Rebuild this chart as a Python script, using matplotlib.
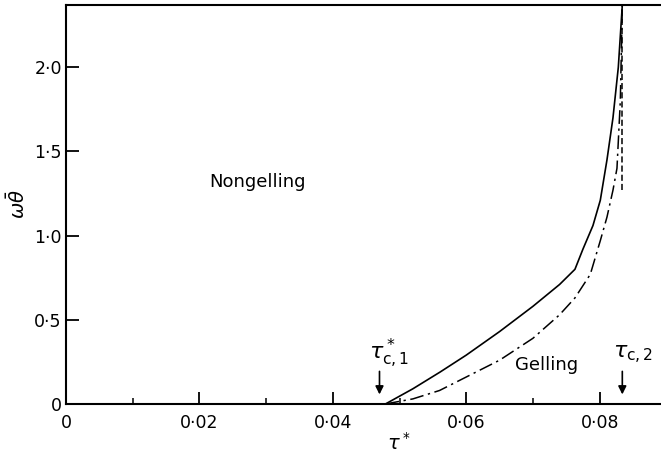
import numpy as np
import matplotlib
matplotlib.use('Agg')
import matplotlib.pyplot as plt
from matplotlib.ticker import FixedLocator, FuncFormatter

plt.rcParams['font.family'] = ['DejaVu Sans']
plt.rcParams['mathtext.fontset'] = 'dejavusans'

# Граница гелеобразования (сплошная линия)
tau_solid = [0.0479, 0.0520, 0.0561, 0.0600, 0.0650, 0.0700, 0.0740, 0.0763,
             0.0775, 0.0790, 0.0801, 0.0811, 0.0820, 0.0828, 0.0834]
w_solid = [0.0, 0.09, 0.19, 0.29, 0.43, 0.58, 0.71, 0.80,
           0.92, 1.06, 1.21, 1.45, 1.70, 2.00, 2.37]

# Вторая граница (штрихпунктир)
tau_dash = [0.0479, 0.0520, 0.0560, 0.0600, 0.0650, 0.0700, 0.0740, 0.0763,
            0.0786, 0.0801, 0.0811, 0.0820, 0.0826, 0.0831, 0.0834]
w_dash = [0.0, 0.03, 0.08, 0.16, 0.26, 0.39, 0.53, 0.63,
          0.77, 0.97, 1.11, 1.27, 1.40, 1.80, 2.37]

# Вертикальная асимптота у tau_c,2
tau_c1 = 0.0470
tau_c2 = 0.0834
asym_y = [1.27, 2.37]

x_major = [0, 0.02, 0.04, 0.06, 0.08]
x_minor = [0.01, 0.03, 0.05, 0.07]
y_major = [0, 0.5, 1.0, 1.5, 2.0]


def dot_fmt(v, pos):
    if v == 0:
        return '0'
    s = ('%.2f' % v) if abs(v) < 0.1 else ('%.1f' % v)
    return s.replace('.', '\u00b7')


fig = plt.figure(figsize=(6.61, 4.58), dpi=100)
ax = fig.add_axes([0.0998, 0.118, 0.9002, 0.871])

ax.plot(tau_solid, w_solid, color='black', lw=1.2)
ax.plot(tau_dash, w_dash, color='black', lw=1.1, linestyle=(0, (9, 3, 1.5, 3)))
ax.plot([tau_c2, tau_c2], asym_y, color='black', lw=1.1, linestyle=(0, (4, 2)))

ax.set_xlim(0, 0.0892)
ax.set_ylim(0, 2.37)

ax.spines['right'].set_visible(False)
for s in ('left', 'bottom', 'top'):
    ax.spines[s].set_linewidth(1.5)

ax.xaxis.set_major_locator(FixedLocator(x_major))
ax.xaxis.set_minor_locator(FixedLocator(x_minor))
ax.yaxis.set_major_locator(FixedLocator(y_major))
ax.xaxis.set_major_formatter(FuncFormatter(dot_fmt))
ax.yaxis.set_major_formatter(FuncFormatter(dot_fmt))
ax.tick_params(which='major', direction='in', length=9, width=1.3,
               labelsize=12.5, top=False, right=False)
ax.tick_params(which='minor', direction='in', length=4, width=1.1,
               top=False, right=False)
ax.tick_params(axis='x', pad=7)
ax.tick_params(axis='y', pad=3)

ax.set_xlabel(r'$\tau^*$', fontsize=14)
ax.xaxis.set_label_coords(0.56, -0.07)
ax.set_ylabel(r'$\omega\bar{\theta}$', fontsize=14, rotation=90)
ax.yaxis.set_label_coords(-0.062, 0.5)

ax.text(0.0287, 1.32, 'Nongelling', fontsize=13, ha='center', va='center')
ax.text(0.0720, 0.23, 'Gelling', fontsize=13, ha='center', va='center')

# Стрелки критических значений
ax.annotate('', xy=(tau_c1, 0.04), xytext=(tau_c1, 0.21),
            arrowprops=dict(arrowstyle='-|>', color='black', lw=1.2,
                            mutation_scale=12))
ax.text(0.0455, 0.30, r'$\tau^*_{\mathrm{c,1}}$', fontsize=16, ha='left', va='center')
ax.annotate('', xy=(tau_c2, 0.04), xytext=(tau_c2, 0.21),
            arrowprops=dict(arrowstyle='-|>', color='black', lw=1.2,
                            mutation_scale=12))
ax.text(0.0820, 0.29, r'$\tau_{\mathrm{c,2}}$', fontsize=16, ha='left', va='center')

fig.savefig('out.png', dpi=100)
